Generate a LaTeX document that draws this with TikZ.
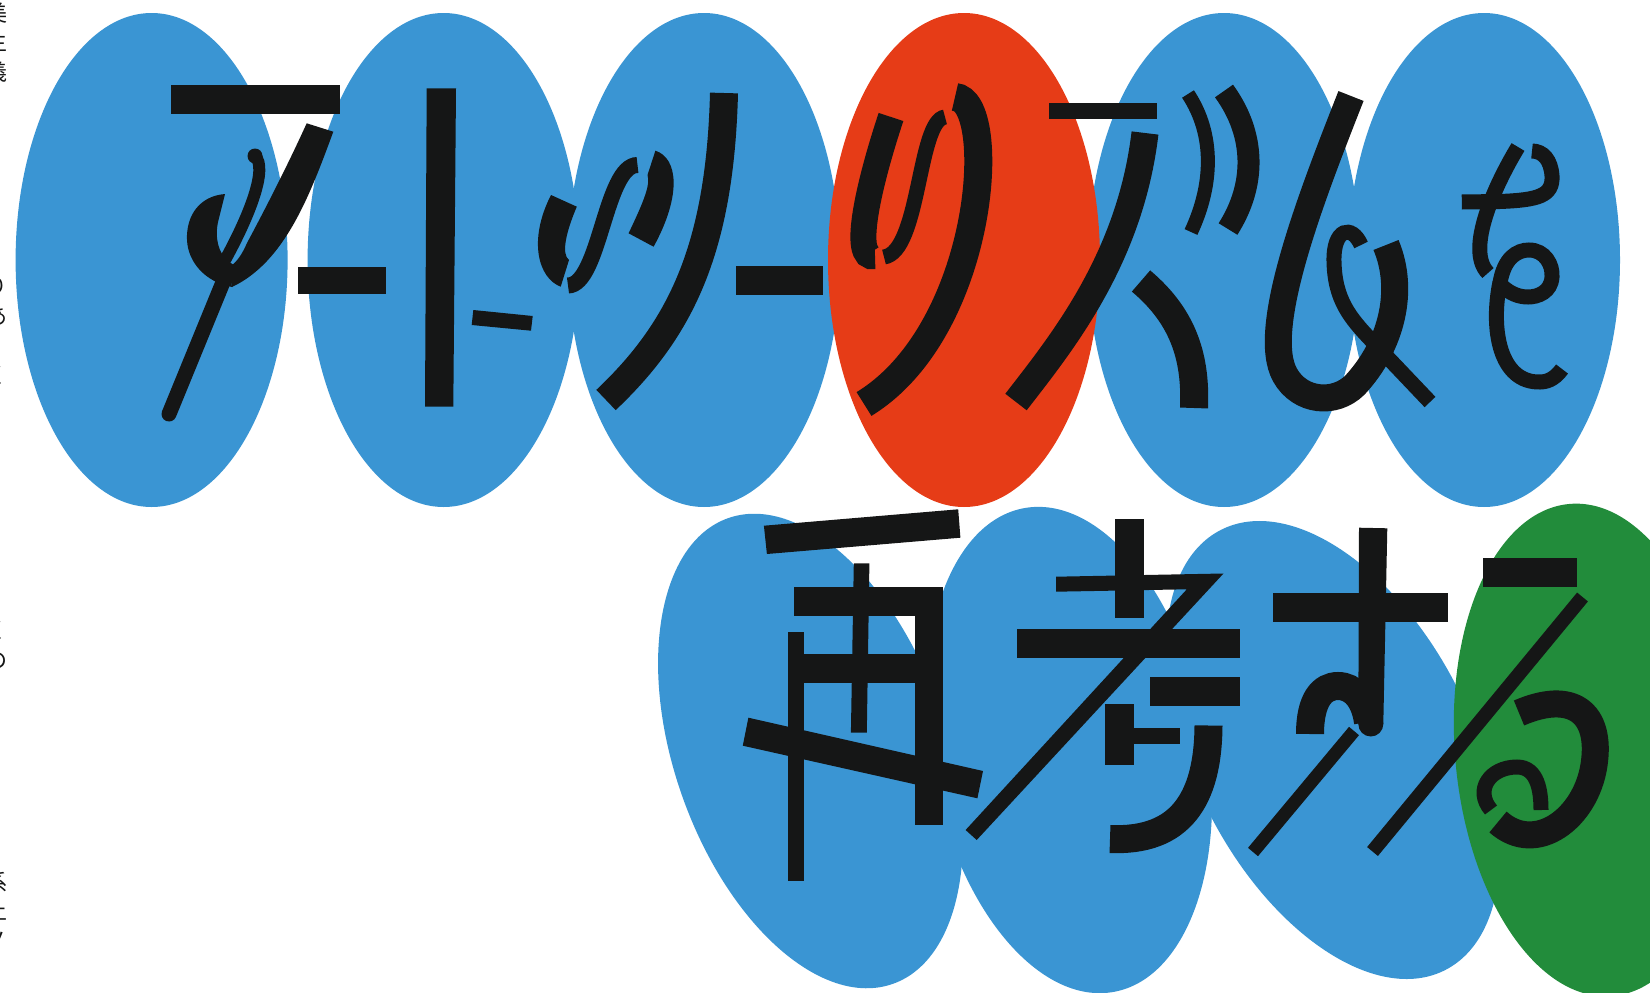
\documentclass[tikz,border=0pt]{standalone}
\usepackage{fontspec}
\newfontfamily\cjk{Noto Sans CJK JP}
\definecolor{inkc}{HTML}{151616}
\definecolor{bluec}{HTML}{3A95D3}
\definecolor{redc}{HTML}{E63C17}
\definecolor{greenc}{HTML}{228C3B}
\tikzset{
  ink/.style={fill=inkc},
  sk/.style={draw=inkc,line width=#1},
  rsk/.style={draw=inkc,line width=#1,line cap=round},
  edgetext/.style={inner sep=0pt,font=\cjk\fontsize{22}{22}\selectfont,text=inkc}
}
\begin{document}
\begin{tikzpicture}[x=1pt,y=-1pt]
\useasboundingbox (0,0) rectangle (1650,993);
\clip (0,0) rectangle (1650,993);
% ---------- top row ovals ----------
\foreach \cx in {151.6,443.6,704,1224,1484}
  \fill[bluec] (\cx,260) ellipse [x radius=136, y radius=247];
\fill[redc] (964,260) ellipse [x radius=136, y radius=247];
% ---------- bottom row ovals ----------
\fill[bluec, rotate around={19.5:(810.5,751)}] (810.5,751) ellipse [x radius=136, y radius=247];
\fill[bluec, rotate around={10.6:(1069,750)}] (1069,750) ellipse [x radius=138, y radius=246];
\fill[bluec, rotate around={27:(1333,750)}] (1333,750) ellipse [x radius=139, y radius=247];
\fill[greenc, rotate around={5:(1591,750)}] (1591,750) ellipse [x radius=136, y radius=247];

% ---------- left edge text fragments ----------
\foreach \c/\y in {美/13,主/42,義/72,、/104,。/135,り/286,あ/316,、/343,く/375,)/405,、/580,く/630,の/661,系/882,土/911,ノ/940}
  \node[edgetext] (frag\y) at (-3,\y) {\c};

% ---------- ア ----------
\fill[ink] (170.7,85) rectangle (340,113.5);
\fill[ink] (306.7,123.3) -- (333.3,131.7) .. controls (310,195) and (285,262) .. (232,287)
  -- (228,268) .. controls (238,262) and (243,252) .. (247,243)
  .. controls (270,200) and (290,160) .. cycle;
\fill[ink] (225,194) .. controls (200,196) and (186,215) .. (187,240)
  .. controls (188,262) and (205,282) .. (232,287) -- (227,260)
  .. controls (219,253) and (214,238) .. (218.5,220) -- cycle;
\fill[ink] (255,156) circle (7.5);
\draw[sk=12] (255,156) .. controls (268,168) and (250,215) .. (224,262);
\draw[rsk=15] (228,270) -- (169,414);
% ー
\fill[ink] (298.3,266.7) rectangle (385.7,294.3);
% ト
\fill[ink] (426.7,88.3) -- (456,88.3) -- (453.3,406.7) -- (425,406.7) -- cycle;
\fill[ink] (473.3,310) -- (532.7,316) -- (531,330.7) -- (471.7,325) -- cycle;
% の
\fill[ink] (551,195) -- (576.8,206.7) .. controls (566,232) and (561,254) .. (569,260)
  -- (560.7,286.7) .. controls (538,278) and (528,240) .. cycle;
\draw[sk=16] (568,285.5) .. controls (600,285) and (605,165) .. (637.5,165);
\fill[ink] (655.4,150.7) .. controls (678,158) and (682,195) .. (653.6,246.7)
  -- (628.6,233.3) .. controls (642,205) and (651,185) .. (647.5,175) -- cycle;
% ノ
\draw[sk=28] (724,93) .. controls (720,250) and (680,330) .. (606,400);
% ー
\fill[ink] (735.7,266) rectangle (823.2,295);
% リ
\draw[sk=26] (891,117) .. controls (870,180) and (850,262) .. (875,256);
\draw[sk=15] (884,257) .. controls (920,252) and (918,120) .. (945,117);
\draw[sk=28] (955,97) .. controls (1000,100) and (985,330) .. (864,404);
% ー
\fill[ink] (1049,103.3) rectangle (1156.5,119.3);
% ス
\draw[sk=27] (1145,133) .. controls (1130,260) and (1060,345) .. (1016,402);
\draw[sk=28] (1141,281) .. controls (1185,318) and (1196,360) .. (1194,408);
\draw[sk=14] (1188,94) .. controls (1215,135) and (1213,185) .. (1191,232);
\draw[sk=22] (1224,91) .. controls (1256,135) and (1256,185) .. (1228,229);
% ク
\draw[sk=27] (1351,96) .. controls (1310,200) and (1260,330) .. (1285,375)
  .. controls (1300,402) and (1335,405) .. (1355,385)
  .. controls (1392,345) and (1405,290) .. (1386,245);
\draw[sk=15] (1361,245) .. controls (1352,224) and (1333,228) .. (1334,262)
  .. controls (1335,300) and (1350,318) .. (1372,341) -- (1430,402);
% を
\draw[sk=15] (1518,147) .. controls (1495,185) and (1465,250) .. (1488,273);
\draw[sk=15] (1461.8,202) -- (1500,201.5) .. controls (1538,200) and (1553,196) .. (1552,176)
  .. controls (1551,160) and (1543,151) .. (1532,151);
\draw[sk=15] (1500,283) .. controls (1504,258) and (1517,250) .. (1529,250)
  .. controls (1545,250) and (1553,265) .. (1552,277)
  .. controls (1551,292) and (1538,297) .. (1528,297)
  .. controls (1518,297) and (1510,293) .. (1503,287);
\draw[sk=15] (1500,282) .. controls (1490,330) and (1500,383) .. (1540,382)
  .. controls (1550,382) and (1557,376) .. (1562,369);

% ---------- 再 ----------
\fill[ink] (763.9,525.7) -- (958.2,509.3) -- (960.4,537.7) -- (766.9,554) -- cycle;
\fill[ink] (853.8,563.3) -- (869.4,563.3) -- (866.8,732.7) -- (850.9,732.7) -- cycle;
\fill[ink] (793.5,587.3) rectangle (943.4,615.7);
\fill[ink] (914.5,587.3) rectangle (943.4,825);
\fill[ink] (788,654.3) rectangle (914.5,683.3);
\fill[ink] (788,632.3) rectangle (803.5,880.7);
\fill[ink] (748.4,717.7) -- (983,771) -- (977.4,798.3) -- (742.8,745.7) -- cycle;
% ---------- 考 ----------
\fill[ink] (1115.4,519.3) rectangle (1144.3,618.3);
\fill[ink] (1056,576.7) -- (1223.5,573.5) -- (976.7,840) -- (965.6,830) -- (1186.8,589.3) -- (1056,591.7) -- cycle;
\fill[ink] (1016.6,629.3) rectangle (1239.6,657.7);
\fill[ink] (1149.8,677.3) rectangle (1239.5,706);
\fill[ink] (1105,703.5) rectangle (1134,765);
\fill[ink] (1134,727.7) rectangle (1180,743.5);
\draw[sk=28] (1208.5,725.5) .. controls (1208,800) and (1180,842) .. (1110,839);
% ---------- す ----------
\fill[ink] (1272.7,592.7) rectangle (1448.3,621.7);
\fill[ink] (1359,527.7) -- (1387.3,528.3) -- (1383.3,724) -- (1358.3,724) -- cycle;
\fill[ink] (1370.8,724) circle (12.5);
\draw[sk=28] (1310,734) .. controls (1310,700) and (1322,686) .. (1338,686)
  .. controls (1354,686) and (1365,700) .. (1368,722);
\draw[sk=13] (1354,731) -- (1253,852);
\draw[sk=14] (1582.5,597) -- (1372.5,851.5);
% ---------- る ----------
\fill[ink] (1483.3,558.3) rectangle (1576.7,586.7);
\draw[sk=27] (1519,713) .. controls (1572,690) and (1602,712) .. (1594,765)
  .. controls (1586,818) and (1536,856) .. (1498,822);
\draw[sk=15] (1491,810) .. controls (1474,790) and (1490,767) .. (1517,767)
  .. controls (1538,767) and (1541,792) .. (1541,810);
\end{tikzpicture}
\end{document}
